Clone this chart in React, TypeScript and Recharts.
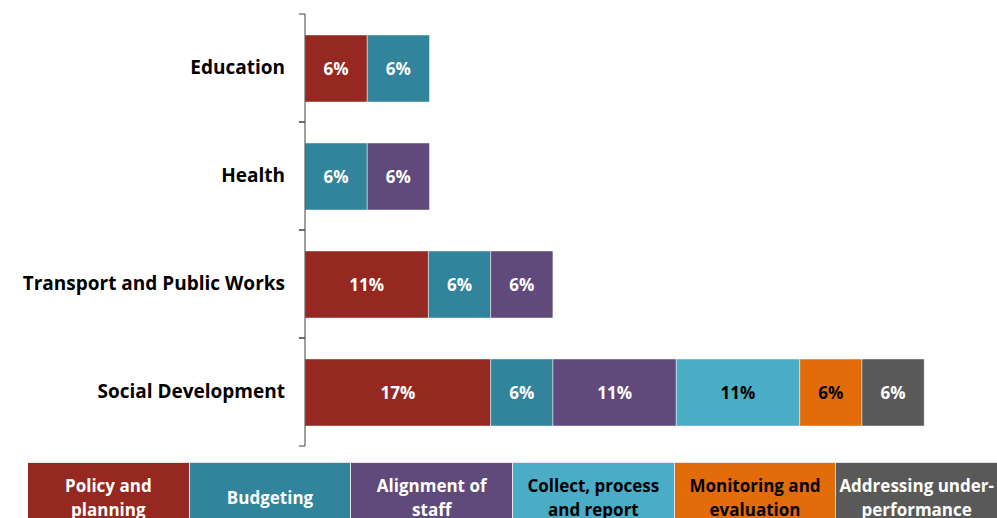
import React from 'react';
import { BarChart, Bar, XAxis, YAxis, LabelList } from 'recharts';

const categories = ['Education', 'Health', 'Transport and Public Works', 'Social Development'];
const seriesNames = [
  'Policy and planning',
  'Budgeting',
  'Alignment of staff',
  'Collect, process and report',
  'Monitoring and evaluation',
  'Addressing under-performance',
];
const legendLabels = [
  'Policy and\nplanning',
  'Budgeting',
  'Alignment of\nstaff',
  'Collect, process\nand report',
  'Monitoring and\nevaluation',
  'Addressing under-\nperformance',
];
const policy = [5.6, 0, 11.1, 16.7];
const budgeting = [5.6, 5.6, 5.6, 5.6];
const alignment = [0, 5.6, 5.6, 11.1];
const collect = [0, 0, 0, 11.1];
const monitoring = [0, 0, 0, 5.6];
const addressing = [0, 0, 0, 5.6];

const seriesValues = [policy, budgeting, alignment, collect, monitoring, addressing];
const keys = ['policy', 'budgeting', 'alignment', 'collect', 'monitoring', 'addressing'];
const colors = ['#952921', '#31849B', '#604A7B', '#4BACC6', '#E36C0A', '#595959'];
const textColors = ['#ffffff', '#ffffff', '#ffffff', '#000000', '#000000', '#ffffff'];

const data = categories.map((c, i) => {
  const row: any = { name: c };
  keys.forEach((k, j) => {
    row[k] = seriesValues[j][i] || null;
  });
  return row;
});

const FONT = '"Open Sans", "Noto Sans", sans-serif';
const TICK_SIZE = 6;
const TICK_MARGIN = 14;

const CategoryTick = (props: any) => {
  const { x, y, payload } = props;
  const axisX = x + TICK_SIZE + TICK_MARGIN;
  const off = payload.offset || 0;
  return (
    <g>
      <line x1={axisX - TICK_SIZE} x2={axisX} y1={y - off} y2={y - off} stroke="#404040" strokeWidth={1} />
      <line x1={axisX - TICK_SIZE} x2={axisX} y1={y + off} y2={y + off} stroke="#404040" strokeWidth={1} />
      <text x={x} y={y - 1} textAnchor="end" dominantBaseline="central" fontFamily={FONT} fontWeight={700} fontSize={19} fill="#000">
        {payload.value}
      </text>
    </g>
  );
};

const fmt = (v: any) => (v ? `${Math.round(v)}%` : '');

export default function App() {
  return (
    <div style={{ position: 'relative', width: 997, height: 518, overflow: 'hidden', background: '#fff' }}>
      <style>{'html,body{margin:0;padding:0;overflow:hidden;}'}</style>
      <BarChart
        layout="vertical"
        width={997}
        height={518}
        data={data}
        margin={{ top: 14, right: 25, bottom: 72, left: 0 }}
        barCategoryGap={0}
        barSize={67}
      >
        <XAxis type="number" hide domain={[0, 60]} />
        <YAxis
          type="category"
          dataKey="name"
          width={305}
          tickSize={TICK_SIZE}
          tickMargin={TICK_MARGIN}
          tickLine={false}
          axisLine={{ stroke: '#404040', strokeWidth: 1 }}
          tick={<CategoryTick />}
          interval={0}
        />
        {keys.map((k, j) => (
          <Bar
            key={k}
            dataKey={k}
            name={seriesNames[j]}
            stackId="a"
            fill={colors[j]}
            stroke="rgba(255,255,255,0.45)"
            strokeWidth={1}
            isAnimationActive={false}
          >
            <LabelList
              dataKey={k}
              position="center"
              formatter={fmt}
              fill={textColors[j]}
              fontFamily={FONT}
              fontWeight={700}
              fontSize={17}
            />
          </Bar>
        ))}
      </BarChart>
      <div
        style={{
          position: 'absolute',
          left: 28,
          top: 462,
          width: 969,
          display: 'flex',
          fontFamily: FONT,
          fontWeight: 700,
          fontSize: 17,
        }}
      >
        {legendLabels.map((label, i) => (
          <div
            key={i}
            title={seriesNames[i]}
            style={{
              flex: '1 1 0',
              height: 70,
              background: colors[i],
              color: textColors[i],
              display: 'flex',
              alignItems: 'center',
              justifyContent: 'center',
              textAlign: 'center',
              lineHeight: '24px',
              whiteSpace: 'pre-line',
              borderLeft: i === 0 ? 'none' : '1px solid #e6e6e6',
              borderTop: '1px solid #e6e6e6',
              boxSizing: 'border-box',
            }}
          >
            {label}
          </div>
        ))}
      </div>
    </div>
  );
}
